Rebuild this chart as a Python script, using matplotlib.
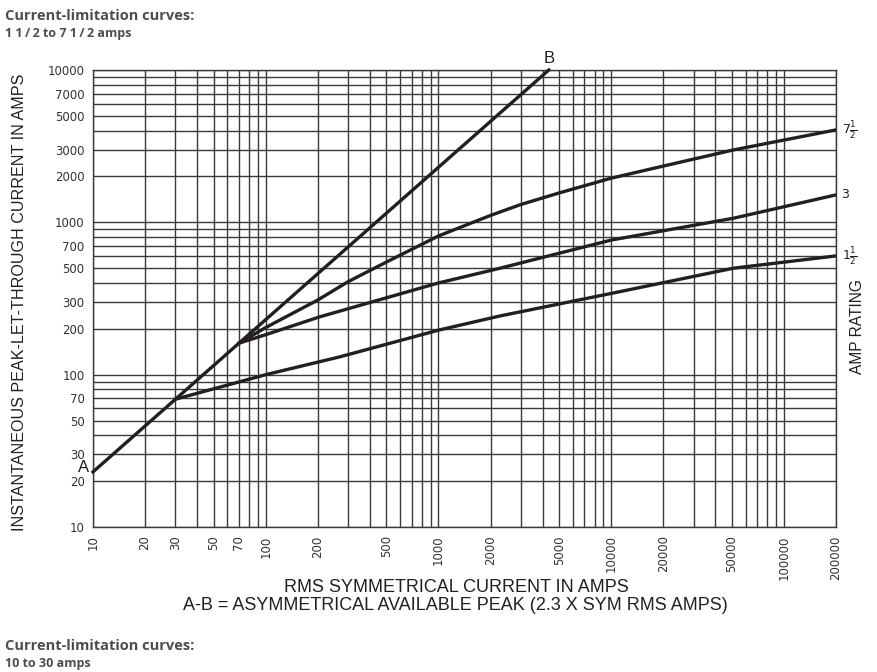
import numpy as np
import matplotlib
matplotlib.use("Agg")
import matplotlib.pyplot as plt
from matplotlib.ticker import FixedLocator, NullFormatter

# ---- data ----
ab_x = [10, 4350]
ab_y = [23, 10000]

c75_x = [70, 100, 200, 300, 500, 1000, 2000, 3000, 5000, 10000, 20000, 51000, 200000]
c75_y = [161, 204, 309, 408, 549, 814, 1110, 1310, 1560, 1950, 2340, 2988, 4044]

c3_x = [70, 100, 206, 1000, 2274, 10000, 51000, 200000]
c3_y = [161, 183, 240, 400, 500, 765, 1064, 1514]

c15_x = [30, 100, 269, 1000, 2274, 10070, 51000, 200000]
c15_y = [69, 100, 131, 196, 243, 342, 500, 602]

curve_labels = [r'$7\frac{1}{2}$', '3', r'$1\frac{1}{2}$']

x_ticks = [10, 20, 30, 50, 70, 100, 200, 500, 1000, 2000, 5000,
           10000, 20000, 50000, 100000, 200000]
y_ticks = [10, 20, 30, 50, 70, 100, 200, 300, 500, 700, 1000,
           2000, 3000, 5000, 7000, 10000]

ink = '#231f20'

fig = plt.figure(figsize=(8.77, 6.72), dpi=100)
ax = fig.add_axes([93 / 877, 145 / 672, 743 / 877, 457 / 672])
ax.set_xscale('log')
ax.set_yscale('log')
ax.set_xlim(10, 200000)
ax.set_ylim(10, 10000)

# grid: every 1..9 step in each decade
xg = [m * 10 ** e for e in range(1, 6) for m in range(1, 10) if m * 10 ** e <= 200000]
yg = [m * 10 ** e for e in range(1, 5) for m in range(1, 10) if m * 10 ** e <= 10000]
ax.xaxis.set_minor_locator(FixedLocator(xg))
ax.yaxis.set_minor_locator(FixedLocator(yg))
ax.xaxis.set_minor_formatter(NullFormatter())
ax.yaxis.set_minor_formatter(NullFormatter())
ax.set_xticks(x_ticks)
ax.set_xticklabels([str(v) for v in x_ticks], rotation=90, fontsize=8.5,
                   color='#333333', family='DejaVu Sans')
ax.set_yticks(y_ticks)
ax.set_yticklabels([str(v) for v in y_ticks], fontsize=8.5,
                   color='#333333', family='DejaVu Sans')
ax.tick_params(which='both', length=0, pad=6)
ax.grid(which='both', color='#3a3a3a', linewidth=1.0)
ax.set_axisbelow(True)
for s in ax.spines.values():
    s.set_color('#3a3a3a')
    s.set_linewidth(1.0)

# curves
lw = 2.4
ax.plot(ab_x, ab_y, color=ink, linewidth=lw, clip_on=False, zorder=3)
ax.plot(c75_x, c75_y, color=ink, linewidth=lw, zorder=3)
ax.plot(c3_x, c3_y, color=ink, linewidth=lw, zorder=3)
ax.plot(c15_x, c15_y, color=ink, linewidth=lw, zorder=3)

ends = [c75_y[-1], c3_y[-1], c15_y[-1]]
for lab, yv in zip(curve_labels, ends):
    ax.annotate(lab, (200000, yv), xytext=(4, 0), textcoords='offset points',
                va='center', ha='left', fontsize=9, color=ink,
                annotation_clip=False)

ax.annotate('A', (ab_x[0], ab_y[0]), xytext=(-3, 3), textcoords='offset points',
            ha='right', va='center', fontsize=12, color=ink,
            family='Liberation Sans', annotation_clip=False)
ax.annotate('B', (ab_x[1], ab_y[1]), xytext=(0, 3), textcoords='offset points',
            ha='center', va='bottom', fontsize=12, color=ink,
            family='Liberation Sans', annotation_clip=False)

# axis titles
fig.text(20 / 877, 1 - 302 / 672, 'INSTANTANEOUS PEAK-LET-THROUGH CURRENT IN AMPS',
         rotation=90, ha='center', va='center', fontsize=11.6, color=ink,
         family='Liberation Sans')
fig.text(857 / 877, 1 - 327 / 672, 'AMP RATING', rotation=90, ha='center',
         va='center', fontsize=11.2, color=ink, family='Liberation Sans')
fig.text(456 / 877, 1 - 588 / 672, 'RMS SYMMETRICAL CURRENT IN AMPS',
         ha='center', va='center', fontsize=13, color=ink, family='Liberation Sans')
fig.text(455 / 877, 1 - 606 / 672,
         'A-B = ASYMMETRICAL AVAILABLE PEAK (2.3 X SYM RMS AMPS)',
         ha='center', va='center', fontsize=13, color=ink, family='Liberation Sans')

# page headings
head = '#4d4d4d'
hfam = ['Open Sans', 'DejaVu Sans']
fig.text(5 / 877, 1 - 16 / 672, 'Current-limitation curves:', ha='left',
         va='center', fontsize=10.5, fontweight='bold', color=head, family=hfam)
fig.text(5 / 877, 1 - 33 / 672, '1 1\u2009/\u20092 to 7 1\u2009/\u20092 amps', ha='left',
         va='center', fontsize=9, fontweight='bold', color=head, family=hfam)
fig.text(5 / 877, 1 - 646 / 672, 'Current-limitation curves:', ha='left',
         va='center', fontsize=10.5, fontweight='bold', color=head, family=hfam)
fig.text(5 / 877, 1 - 663 / 672, '10 to 30 amps', ha='left',
         va='center', fontsize=9, fontweight='bold', color=head, family=hfam)

fig.savefig('out.png', dpi=100)
